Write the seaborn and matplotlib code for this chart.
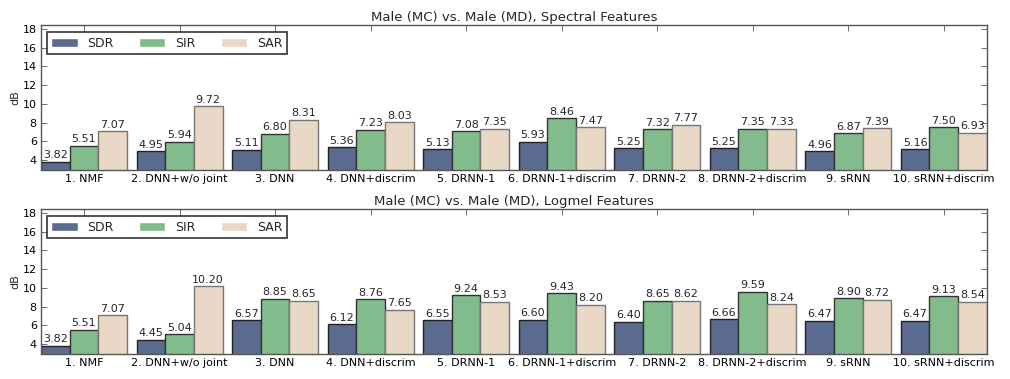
import seaborn as sns
import matplotlib
matplotlib.use("Agg")
import matplotlib.pyplot as plt
import pandas as pd

# Values
methods = ["1. NMF", "2. DNN+w/o joint", "3. DNN", "4. DNN+discrim", "5. DRNN-1",
           "6. DRNN-1+discrim", "7. DRNN-2", "8. DRNN-2+discrim", "9. sRNN",
           "10. sRNN+discrim"]
metrics = ["SDR", "SIR", "SAR"]

spectral_sdr = [3.82, 4.95, 5.11, 5.36, 5.13, 5.93, 5.25, 5.25, 4.96, 5.16]
spectral_sir = [5.51, 5.94, 6.80, 7.23, 7.08, 8.46, 7.32, 7.35, 6.87, 7.50]
spectral_sar = [7.07, 9.72, 8.31, 8.03, 7.35, 7.47, 7.77, 7.33, 7.39, 6.93]

logmel_sdr = [3.82, 4.45, 6.57, 6.12, 6.55, 6.60, 6.40, 6.66, 6.47, 6.47]
logmel_sir = [5.51, 5.04, 8.85, 8.76, 9.24, 9.43, 8.65, 9.59, 8.90, 9.13]
logmel_sar = [7.07, 10.20, 8.65, 7.65, 8.53, 8.20, 8.62, 8.24, 8.72, 8.54]

titles = ["Male (MC) vs. Male (MD), Spectral Features",
          "Male (MC) vs. Male (MD), Logmel Features"]
yticks = [4, 6, 8, 10, 12, 14, 16, 18]

palette = {"SDR": "#5b6b8f", "SIR": "#82bb8c", "SAR": "#e8d8c5"}
edges = {"SDR": "#222222", "SIR": "#333333", "SAR": "#777777"}


def to_long(sdr, sir, sar):
    rows = []
    for m, a, b, c in zip(methods, sdr, sir, sar):
        rows += [(m, "SDR", a), (m, "SIR", b), (m, "SAR", c)]
    return pd.DataFrame(rows, columns=["method", "metric", "dB"])


panels = [to_long(spectral_sdr, spectral_sir, spectral_sar),
          to_long(logmel_sdr, logmel_sir, logmel_sar)]

sns.set_style("ticks")
plt.rcParams["font.family"] = ["DejaVu Sans"]

fig, axes = plt.subplots(2, 1, figsize=(10.1, 3.79), dpi=100)
fig.subplots_adjust(left=0.0406, right=0.977, top=0.934, bottom=0.066, hspace=0.27)

for ax, df, title in zip(axes, panels, titles):
    sns.barplot(data=df, x="method", y="dB", hue="metric", hue_order=metrics,
                palette=palette, width=0.9, linewidth=1, saturation=1,
                errorbar=None, ax=ax)
    for cont, name in zip(ax.containers, metrics):
        for bar in cont:
            bar.set_edgecolor(edges[name])
        ax.bar_label(cont, fmt="%.2f", padding=1, fontsize=8)
    ax.set_xlim(-0.45, 9.45)
    ax.set_ylim(2.93, 18.43)
    ax.set_yticks(yticks)
    ax.set_title(title, fontsize=9.5, pad=3)
    ax.set_xlabel("")
    ax.set_ylabel("dB", fontsize=8, labelpad=2)
    ax.tick_params(axis="both", direction="in", labelsize=8, length=4, width=0.6,
                   top=True, right=True, pad=3, colors="#555555", labelcolor="black")
    for sp in ax.spines.values():
        sp.set_visible(True)
        sp.set_color("#555555")
        sp.set_linewidth(1)
    leg = ax.legend(loc="upper left", ncol=3, fontsize=9, frameon=True,
                    fancybox=False, handlelength=2.1, handleheight=0.75,
                    handletextpad=0.8, columnspacing=2.0, borderpad=0.35,
                    borderaxespad=0, bbox_to_anchor=(0.0063, 0.95))
    leg.get_frame().set_edgecolor("black")
    leg.get_frame().set_linewidth(1.2)

fig.savefig("out.png", dpi=100)
